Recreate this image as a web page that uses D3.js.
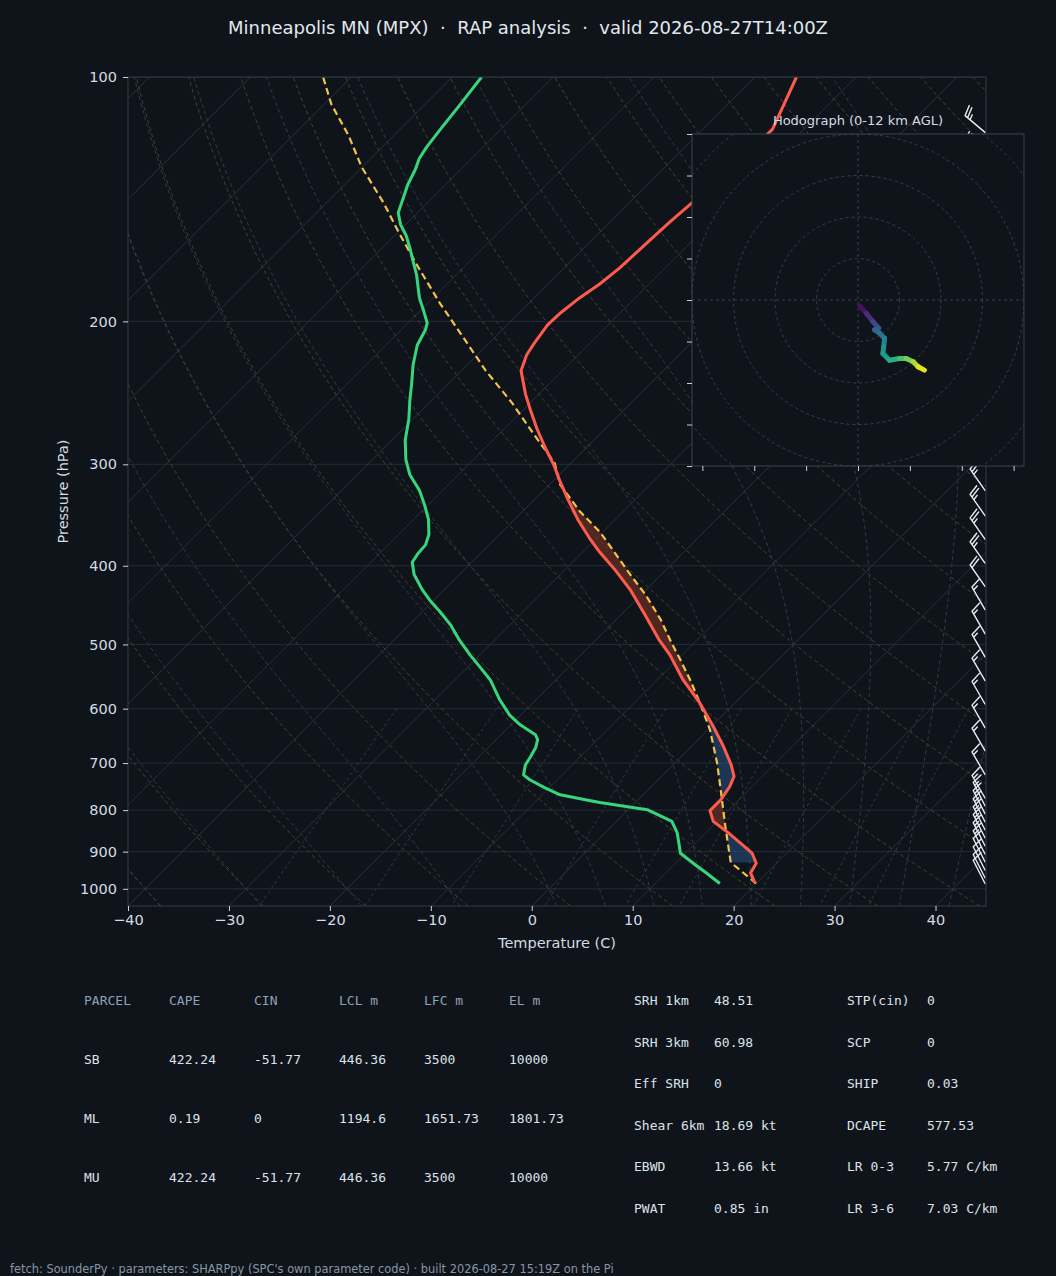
<!DOCTYPE html>
<html>
<head>
<meta charset="utf-8">
<title>Skew-T MPX</title>
<script src="https://cdn.jsdelivr.net/npm/d3@7"></script>
<style>
    body { margin: 0; background: #0f141b; }
    svg { display: block; font-family: "DejaVu Sans", sans-serif; }
    .axis text { fill: #d4dbe3; font-size: 14.5px; }
    .axis line { stroke: #c9d1da; }
    .mono { font-family: "DejaVu Sans Mono", monospace; font-size: 13px; }
</style>
</head>
<body>
<script>
    // ---- sounding (hPa, degC) ----
    const TEMP_P = [985, 956, 930, 904, 878, 854, 826, 801, 777, 749, 727, 704, 668, 631, 591, 553, 515, 494, 460, 428,
        405, 385, 370, 351, 332, 314, 300, 286, 271, 257, 246, 230, 220, 213, 202, 195, 187, 180, 172, 161, 151, 143,
        134, 124, 116, 100];
    const TEMP_C = [19.9, 18.4, 18.0, 16.6, 14.4, 12.3, 9.6, 8.2, 8.2, 7.8, 7.2, 5.8, 3.2, 0.2, -3.4, -7.4, -11.2, -13.7,
        -17.6, -21.6, -25.0, -28.3, -30.7, -33.7, -36.6, -39.4, -41.6, -44.1, -46.8, -49.3, -51.3, -54.1, -55.1, -55.5,
        -56.0, -55.9, -55.5, -54.9, -54.5, -54.3, -54.1, -53.8, -53.5, -53.2, -53.1, -55.9];

    const DEWP_P = [985, 957, 934, 904, 854, 826, 799, 783, 777, 766, 751, 734, 724, 704, 688, 670, 655, 646, 628, 611,
        585, 553, 534, 515, 494, 473, 456, 441, 428, 410, 396, 386, 377, 366, 351, 337, 323, 309, 296, 280, 264, 250,
        239, 226, 214, 205, 201, 194, 187, 175, 168, 163, 157, 152, 147, 142, 136, 130, 126, 122, 116, 108, 100];
    const DEWP_C = [16.4, 14.1, 12.1, 9.5, 7.2, 5.5, 1.9, -3.5, -5.2, -8.2, -10.4, -12.7, -13.8, -14.6, -14.9, -15.3,
        -15.9, -16.6, -19.1, -21.1, -23.6, -26.5, -28.7, -31.0, -33.5, -35.9, -38.2, -40.4, -42.2, -44.5, -45.9, -46.2,
        -46.3, -47.0, -48.5, -50.3, -52.3, -54.8, -56.7, -58.7, -60.4, -62.2, -63.6, -65.4, -66.9, -67.6, -68.1, -69.7,
        -71.4, -74.0, -75.8, -77.1, -78.8, -80.5, -81.9, -82.7, -83.7, -84.5, -85.2, -85.6, -86.0, -86.5, -87.1];

    const PARCEL_P = [985, 928, 838, 755, 700, 637, 591, 553, 522, 499, 466, 434, 410, 386, 364, 343, 318, 299, 277, 252,
        230, 209, 190, 171, 156, 143, 129, 118, 108, 100];
    const PARCEL_C = [20.0, 15.4, 11.3, 7.2, 4.2, 0.2, -3.4, -6.7, -9.7, -12.1, -15.6, -19.6, -23.1, -26.7, -30.2, -34.3,
        -38.9, -41.6, -46.2, -51.8, -57.6, -63.2, -68.8, -74.7, -79.7, -84.3, -90.1, -94.5, -99.3, -102.8];
    const SHADE_BOTTOM_P = 928;   // LCL
    const SHADE_TOP_P = 300;      // EL

    // wind barbs (hPa, kt, deg from)
    const BARB_P = [117, 126, 136, 146, 157, 168, 181, 195, 209, 225, 242, 260, 279, 300, 323, 347, 371, 397, 424, 453,
        485, 518, 554, 592, 633, 676, 723, 773, 790, 808, 827, 846, 865, 885, 906, 926, 948, 969, 985];
    const BARB_KT = [25, 25, 25, 25, 25, 25, 25, 25, 25, 20, 20, 20, 20, 20, 25, 25, 25, 25, 20, 15, 15, 15, 15, 15, 15,
        15, 15, 15, 15, 15, 15, 15, 15, 15, 15, 10, 10, 10, 10];
    const BARB_DIR = [310, 310, 310, 310, 318, 318, 318, 318, 318, 318, 318, 318, 318, 318, 325, 325, 325, 325, 325, 330,
        330, 330, 330, 330, 330, 330, 330, 330, 333, 333, 333, 333, 333, 333, 333, 333, 333, 333, 333];

    // hodograph (u, v in kt, height km AGL)
    const HODO_U = [0.4, 2.0, 3.6, 5.0, 4.0, 5.2, 6.4, 6.2, 6.0, 7.6, 10.0, 11.6, 13.3, 14.5, 16.0];
    const HODO_V = [-1.4, -3.2, -5.2, -6.8, -7.2, -8.0, -9.2, -11.2, -12.9, -14.5, -14.1, -14.1, -14.9, -16.1, -16.9];
    const HODO_H = [0, 1, 2, 3, 3.5, 4, 5, 5.7, 6.3, 7, 8, 9, 10, 11, 12];

    const P_TICKS = [100, 200, 300, 400, 500, 600, 700, 800, 900, 1000];
    const T_TICKS = [-40, -30, -20, -10, 0, 10, 20, 30, 40];

    const PARCEL_HEAD = ["PARCEL", "CAPE", "CIN", "LCL m", "LFC m", "EL m"];
    const PARCEL_ROWS = [
        ["SB", "422.24", "-51.77", "446.36", "3500", "10000"],
        ["ML", "0.19", "0", "1194.6", "1651.73", "1801.73"],
        ["MU", "422.24", "-51.77", "446.36", "3500", "10000"]];
    const STATS_A = [["SRH 1km", "48.51"], ["SRH 3km", "60.98"], ["Eff SRH", "0"], ["Shear 6km", "18.69 kt"],
        ["EBWD", "13.66 kt"], ["PWAT", "0.85 in"]];
    const STATS_B = [["STP(cin)", "0"], ["SCP", "0"], ["SHIP", "0.03"], ["DCAPE", "577.53"],
        ["LR 0-3", "5.77 C/km"], ["LR 3-6", "7.03 C/km"]];

    // ---- layout ----
    const W = 1056, H = 1276;
    const pL = 128, pR = 986, pT = 77, pB = 906;
    const BG = "#0f141b";

    const svg = d3.select("body").append("svg").attr("width", W).attr("height", H);
    svg.append("rect").attr("width", W).attr("height", H).attr("fill", BG);

    const x = d3.scaleLinear().domain([-40, 45]).range([pL, pR]);
    const y = d3.scaleLog().domain([1050, 100]).range([pB, pT]);
    const SKEW = 1.0;
    const sx = (t, p) => x(t) + (y(1050) - y(p)) * SKEW;

    svg.append("clipPath").attr("id", "plot")
        .append("rect").attr("x", pL).attr("y", pT).attr("width", pR - pL).attr("height", pB - pT);
    const plot = svg.append("g").attr("clip-path", "url(#plot)");

    // ---- background lines ----
    const pLevels = d3.range(60).map(i => 1050 * Math.pow(100 / 1050, i / 59));
    const path = d3.line().x(d => sx(d[1], d[0])).y(d => y(d[0]));

    plot.selectAll(".isobar").data(P_TICKS).join("line")
        .attr("x1", pL).attr("x2", pR).attr("y1", d => y(d)).attr("y2", d => y(d))
        .attr("stroke", "#222d39").attr("stroke-width", 1);

    plot.selectAll(".isotherm").data(d3.range(-130, 41, 10)).join("line")
        .attr("x1", d => sx(d, 1050)).attr("y1", y(1050))
        .attr("x2", d => sx(d, 100)).attr("y2", y(100))
        .attr("stroke", "#27323e").attr("stroke-width", 1);

    // dry adiabats
    const dry = d3.range(-40, 201, 10).map(t0 =>
        pLevels.map(p => [p, (t0 + 273.15) * Math.pow(p / 1000, 0.2857) - 273.15]));
    plot.selectAll(".dry").data(dry).join("path")
        .attr("d", path).attr("fill", "none")
        .attr("stroke", "#4a3e2f").attr("stroke-width", 1).attr("stroke-dasharray", "4,3");

    // moist adiabats (RK4 on the saturated lapse rate)
    const Rd = 287.04749, Cp = 1004.6662, Lv = 2.50084e6, eps = 0.621957;
    const es = tk => 6.112 * Math.exp(17.67 * (tk - 273.15) / (tk - 29.65));
    const dTdp = (p, t) => {
        const e = es(t), rs = eps * e / (p - e);
        return (Rd * t + Lv * rs) / (Cp + Lv * Lv * rs * eps / (Rd * t * t)) / p;
    };
    function moist(t0) {
        const out = [];
        for (const dir of [1, -1]) {
            let p = 1000, t = t0 + 273.15;
            const seg = [[p, t0]];
            const end = dir > 0 ? 1050 : 100, h = 5 * dir;
            while ((dir > 0 && p < end) || (dir < 0 && p > end)) {
                const k1 = dTdp(p, t), k2 = dTdp(p + h / 2, t + h * k1 / 2);
                const k3 = dTdp(p + h / 2, t + h * k2 / 2), k4 = dTdp(p + h, t + h * k3);
                t += h * (k1 + 2 * k2 + 2 * k3 + k4) / 6;
                p += h;
                seg.push([p, t - 273.15]);
            }
            if (dir > 0) out.push(...seg.reverse()); else out.push(...seg.slice(1));
        }
        return out;
    }
    const moistT0 = [-40, -30, -20, -10, 0, 5, 10, 15, 20, 25, 30, 35, 40, 45];
    plot.selectAll(".moist").data(moistT0.map(moist)).join("path")
        .attr("d", path).attr("fill", "none")
        .attr("stroke", "#2b3d4a").attr("stroke-width", 1).attr("stroke-dasharray", "4,3");

    // mixing ratio lines
    const mixW = [0.0004, 0.001, 0.002, 0.004, 0.007, 0.01, 0.016, 0.024, 0.032];
    const mixP = d3.range(600, 1051, 10);
    const mixLines = mixW.map(w => mixP.map(p => {
        const l = Math.log(p * w / (eps + w) / 6.112);
        return [p, 243.5 * l / (17.67 - l)];
    }));
    plot.selectAll(".mix").data(mixLines).join("path")
        .attr("d", path).attr("fill", "none")
        .attr("stroke", "#2b3d4a").attr("stroke-width", 1).attr("stroke-dasharray", "3,3");

    // ---- CAPE / CIN shading ----
    function interp(ps, vs, p) {
        const lp = Math.log(p);
        for (let i = 0; i < ps.length - 1; i++) {
            if (p <= ps[i] && p >= ps[i + 1]) {
                const f = (Math.log(ps[i]) - lp) / (Math.log(ps[i]) - Math.log(ps[i + 1]));
                return vs[i] + f * (vs[i + 1] - vs[i]);
            }
        }
        return NaN;
    }
    const shadeP = d3.range(Math.log(SHADE_BOTTOM_P), Math.log(SHADE_TOP_P), -0.002).map(Math.exp);
    const tEnv = p => interp(TEMP_P, TEMP_C, p), tPar = p => interp(PARCEL_P, PARCEL_C, p);
    plot.append("path").datum(shadeP)
        .attr("d", d3.area().y(p => y(p)).x0(p => sx(tEnv(p), p)).x1(p => sx(Math.max(tEnv(p), tPar(p)), p)))
        .attr("fill", "#7a3325").attr("opacity", 0.6);
    plot.append("path").datum(shadeP)
        .attr("d", d3.area().y(p => y(p)).x0(p => sx(Math.min(tEnv(p), tPar(p)), p)).x1(p => sx(tEnv(p), p)))
        .attr("fill", "#2a5590").attr("opacity", 0.5);

    // ---- profiles ----
    const zip = (ps, vs) => ps.map((p, i) => [p, vs[i]]);
    plot.append("path").datum(zip(PARCEL_P, PARCEL_C)).attr("d", path).attr("fill", "none")
        .attr("stroke", "#f2c24a").attr("stroke-width", 2.2).attr("stroke-dasharray", "7,4");
    plot.append("path").datum(zip(DEWP_P, DEWP_C)).attr("d", path).attr("fill", "none")
        .attr("stroke", "#38d67c").attr("stroke-width", 3).attr("stroke-linejoin", "round");
    plot.append("path").datum(zip(TEMP_P, TEMP_C)).attr("d", path).attr("fill", "none")
        .attr("stroke", "#ff5b4c").attr("stroke-width", 3).attr("stroke-linejoin", "round");

    // ---- wind barbs at the right edge ----
    function barb(bx, by, spd, dir) {
        const len = 26, hgt = 0.4 * len, wid = 0.25 * len, sp = 0.125 * len;
        const r = dir * Math.PI / 180;
        const ux = Math.sin(r), uy = -Math.cos(r);
        const px = -uy, py = ux;
        const pt = (s, q) => [bx + ux * s + px * q, by + uy * s + py * q].map(v => v.toFixed(1)).join(",");
        let v = Math.round(spd / 5) * 5;
        const nflag = Math.floor(v / 50); v -= nflag * 50;
        const nfull = Math.floor(v / 10); v -= nfull * 10;
        const half = v >= 5;
        let d = `M${pt(0, 0)}L${pt(len, 0)}`, off = 0;
        for (let i = 0; i < nflag; i++) {
            d += `M${pt(len + off, 0)}L${pt(len + off - wid / 2, hgt)}L${pt(len + off - wid, 0)}Z`;
            off -= wid + sp;
        }
        for (let i = 0; i < nfull; i++) {
            d += `M${pt(len + off, 0)}L${pt(len + off + wid / 2, hgt)}`;
            off -= sp;
        }
        if (half) {
            if (off === 0) off -= 1.5 * sp;
            d += `M${pt(len + off, 0)}L${pt(len + off + wid / 4, hgt / 2)}`;
        }
        return d;
    }
    plot.selectAll(".barb").data(BARB_P).join("path")
        .attr("d", (p, i) => barb(pR - 1, y(p), BARB_KT[i], BARB_DIR[i]))
        .attr("fill", "none").attr("stroke", "#e6ecf2").attr("stroke-width", 1.4)
        .attr("stroke-linecap", "round");

    // ---- frame and axes ----
    svg.append("rect").attr("x", pL).attr("y", pT).attr("width", pR - pL).attr("height", pB - pT)
        .attr("fill", "none").attr("stroke", "#303c49").attr("stroke-width", 1);

    svg.append("g").attr("class", "axis").attr("transform", `translate(${pL},0)`)
        .call(d3.axisLeft(y).tickValues(P_TICKS).tickFormat(d3.format("d")).tickSize(5).tickPadding(6));
    svg.append("g").attr("class", "axis").attr("transform", `translate(0,${pB})`)
        .call(d3.axisBottom(x).tickValues(T_TICKS).tickSize(5).tickPadding(4)
            .tickFormat(d => d < 0 ? "\u2212" + (-d) : d));
    svg.selectAll(".axis .domain").remove();
    svg.selectAll(".axis text").attr("font-family", "DejaVu Sans, sans-serif");

    svg.append("text").attr("transform", `translate(63,${(pT + pB) / 2}) rotate(-90)`)
        .attr("text-anchor", "middle").attr("dominant-baseline", "central")
        .attr("fill", "#d4dbe3").attr("font-size", 14.5).text("Pressure (hPa)");
    svg.append("text").attr("x", (pL + pR) / 2).attr("y", 943)
        .attr("text-anchor", "middle").attr("dominant-baseline", "central")
        .attr("fill", "#d4dbe3").attr("font-size", 14.5).text("Temperature (C)");

    svg.append("text").attr("x", W / 2).attr("y", 27)
        .attr("text-anchor", "middle").attr("dominant-baseline", "central")
        .attr("fill", "#e2e8ee").attr("font-size", 18).style("white-space", "pre")
        .text("Minneapolis MN (MPX)  \u00b7  RAP analysis  \u00b7  valid 2026-08-27T14:00Z");

    // ---- hodograph inset ----
    const hx = d3.scaleLinear().domain([-40, 40]).range([692, 1024]);
    const hy = d3.scaleLinear().domain([-40, 40]).range([466, 134]);
    const hodo = svg.append("g");
    hodo.append("clipPath").attr("id", "hodo")
        .append("rect").attr("x", 692).attr("y", 134).attr("width", 332).attr("height", 332);
    hodo.append("rect").attr("x", 692).attr("y", 134).attr("width", 332).attr("height", 332).attr("fill", BG);
    const hin = hodo.append("g").attr("clip-path", "url(#hodo)");
    hin.selectAll("circle").data([10, 20, 30, 40, 50]).join("circle")
        .attr("cx", hx(0)).attr("cy", hy(0)).attr("r", d => hx(d) - hx(0))
        .attr("fill", "none").attr("stroke", "#34414f").attr("stroke-width", 1).attr("stroke-dasharray", "3,3");
    hin.append("line").attr("x1", 692).attr("x2", 1024).attr("y1", hy(0)).attr("y2", hy(0))
        .attr("stroke", "#34414f").attr("stroke-dasharray", "3,3");
    hin.append("line").attr("y1", 134).attr("y2", 466).attr("x1", hx(0)).attr("x2", hx(0))
        .attr("stroke", "#34414f").attr("stroke-dasharray", "3,3");
    const segs = d3.range(HODO_U.length - 1);
    hin.selectAll(".hseg").data(segs).join("line")
        .attr("x1", i => hx(HODO_U[i])).attr("y1", i => hy(HODO_V[i]))
        .attr("x2", i => hx(HODO_U[i + 1])).attr("y2", i => hy(HODO_V[i + 1]))
        .attr("stroke", i => d3.interpolateViridis((HODO_H[i] + HODO_H[i + 1]) / 2 / 12))
        .attr("stroke-width", 5).attr("stroke-linecap", "round");
    hodo.append("rect").attr("x", 692).attr("y", 134).attr("width", 332).attr("height", 332)
        .attr("fill", "none").attr("stroke", "#394553");
    hodo.append("g").attr("transform", "translate(692,0)")
        .call(d3.axisLeft(hy).tickValues(d3.range(-40, 41, 10)).tickSize(5).tickFormat(""))
        .call(g => g.select(".domain").remove())
        .selectAll("line").attr("stroke", "#c9d1da");
    hodo.append("g").attr("transform", "translate(0,466)")
        .call(d3.axisBottom(hx).tickValues(d3.range(-37.5, 38, 12.5)).tickSize(5).tickFormat(""))
        .call(g => g.select(".domain").remove())
        .selectAll("line").attr("stroke", "#c9d1da");
    hodo.append("text").attr("x", hx(0)).attr("y", 120)
        .attr("text-anchor", "middle").attr("dominant-baseline", "central")
        .attr("fill", "#d4dbe3").attr("font-size", 13).text("Hodograph (0-12 km AGL)");

    // ---- parameter tables ----
    const colX = [84, 169, 254, 339, 424, 509];
    const rowY = [1000, 1059, 1118, 1177];
    const tbl = svg.append("g").attr("class", "mono");
    PARCEL_HEAD.forEach((t, j) => tbl.append("text").attr("x", colX[j]).attr("y", rowY[0])
        .attr("dominant-baseline", "central").attr("fill", "#8ea2b6").text(t));
    PARCEL_ROWS.forEach((row, i) => row.forEach((t, j) => tbl.append("text")
        .attr("x", colX[j]).attr("y", rowY[i + 1]).attr("dominant-baseline", "central")
        .attr("fill", "#dce2e9").text(t)));

    const statY = [1000, 1042, 1083, 1125, 1166, 1208];
    [[STATS_A, 634, 714], [STATS_B, 847, 927]].forEach(([rows, lx, vx]) => rows.forEach((r, i) => {
        tbl.append("text").attr("x", lx).attr("y", statY[i]).attr("dominant-baseline", "central")
            .attr("fill", "#dce2e9").text(r[0]);
        tbl.append("text").attr("x", vx).attr("y", statY[i]).attr("dominant-baseline", "central")
            .attr("fill", "#dce2e9").text(r[1]);
    }));

    svg.append("text").attr("x", 10).attr("y", 1269).attr("dominant-baseline", "central")
        .attr("fill", "#8795a5").attr("font-size", 11.4)
        .text("fetch: SounderPy \u00b7 parameters: SHARPpy (SPC's own parameter code) \u00b7 built 2026-08-27 15:19Z on the Pi");
</script>
</body>
</html>
